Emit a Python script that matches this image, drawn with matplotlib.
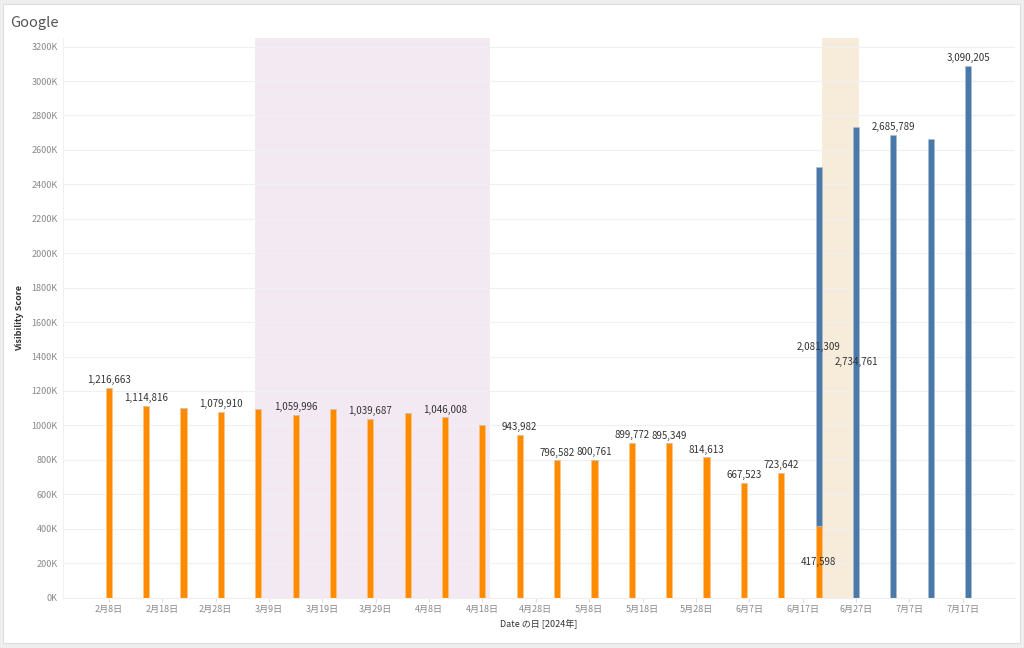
import matplotlib
matplotlib.use('Agg')
import matplotlib.pyplot as plt
import matplotlib.dates as mdates
import matplotlib.ticker as plticker
import matplotlib.patches as mpatches
import numpy as np
import pandas as pd

plt.rcParams['font.family'] = ['Noto Sans CJK JP', 'DejaVu Sans']

# daten
dates = ['2024-02-08', '2024-02-15', '2024-02-22', '2024-02-29', '2024-03-07', '2024-03-14',
         '2024-03-21', '2024-03-28', '2024-04-04', '2024-04-11', '2024-04-18', '2024-04-25',
         '2024-05-02', '2024-05-09', '2024-05-16', '2024-05-23', '2024-05-30', '2024-06-06',
         '2024-06-13', '2024-06-20', '2024-06-27', '2024-07-04', '2024-07-11', '2024-07-18']
orange_vals = [1216663, 1114816, 1103000, 1079910, 1097000, 1059996, 1097000, 1039687,
               1072000, 1046008, 1004000, 943982, 796582, 800761, 899772, 895349,
               814613, 667523, 723642, 417598, 0, 0, 0, 0]
blue_vals = [0, 0, 0, 0, 0, 0, 0, 0, 0, 0, 0, 0, 0, 0, 0, 0, 0, 0, 0,
             2081309, 2734761, 2685789, 2664000, 3090205]
# welche Balken beschriftet werden
orange_top_labels = [0, 1, 3, 5, 7, 9, 11, 12, 13, 14, 15, 16, 17, 18]
orange_mid_labels = [19]
blue_mid_labels = [19, 20]
blue_top_labels = [21, 23]
xtick_dates = ['2024-02-08', '2024-02-18', '2024-02-28', '2024-03-09', '2024-03-19', '2024-03-29',
               '2024-04-08', '2024-04-18', '2024-04-28', '2024-05-08', '2024-05-18', '2024-05-28',
               '2024-06-07', '2024-06-17', '2024-06-27', '2024-07-07', '2024-07-17']
shade_pink = ('2024-03-06 11:00', '2024-04-19 08:00')
shade_beige = ('2024-06-20 14:00', '2024-06-27 12:00')

my_orange = '#ff8c00'
my_blue = '#4a78a8'
text_grey = '#888888'

x = mdates.date2num(pd.to_datetime(dates))
orange = np.array(orange_vals)
blue = np.array(blue_vals)
width = 1.15

fig = plt.figure(figsize=(10.24, 6.48), dpi=100)
fig.patch.set_facecolor('#eeeeee')
fig.patches.append(mpatches.Rectangle((3/1024, 1 - 643/648), 1017/1024, 639/648,
                                      transform=fig.transFigure, facecolor='white',
                                      edgecolor='#dddddd', linewidth=0.8, zorder=-5))

ax = fig.add_axes([63/1024, 1 - 597.6/648, 952/1024, 559.6/648])
ax.set_facecolor('none')
ax.set_zorder(1)

# Hintergrund-Bereiche
for (a, b), c in [(shade_pink, '#f3e9f3'), (shade_beige, '#f7ebda')]:
    ax.axvspan(mdates.date2num(pd.Timestamp(a)), mdates.date2num(pd.Timestamp(b)),
               color=c, zorder=0, linewidth=0)

ax.grid(axis='y', color='#f0f0f0', linewidth=0.9, zorder=0.5)
ax.set_axisbelow(True)

# Balken
ax.bar(x, orange, width, color=my_orange, edgecolor='#ffc38a', linewidth=0.4, zorder=2)
ax.bar(x, blue, width, bottom=orange, color=my_blue, edgecolor='#a9c0d8', linewidth=0.4, zorder=2)

lab_kw = dict(fontsize=7, color='#333333', ha='center', zorder=3)
for i in orange_top_labels:
    ax.annotate(f'{orange[i]:,}', (x[i], orange[i]), xytext=(0, 2),
                textcoords='offset points', va='bottom', **lab_kw)
for i in orange_mid_labels:
    ax.text(x[i], orange[i] / 2, f'{orange[i]:,}', va='center', **lab_kw)
for i in blue_mid_labels:
    ax.text(x[i], orange[i] + blue[i] / 2, f'{blue[i]:,}', va='center', **lab_kw)
for i in blue_top_labels:
    ax.annotate(f'{blue[i]:,}', (x[i], orange[i] + blue[i]), xytext=(0, 2),
                textcoords='offset points', va='bottom', **lab_kw)

ax.set_xlim(mdates.date2num(pd.Timestamp('2024-01-30 10:00')),
            mdates.date2num(pd.Timestamp('2024-07-26 19:00')))
ax.set_ylim(0, 3250000)

ticks = mdates.date2num(pd.to_datetime(xtick_dates))
ax.set_xticks(ticks, [f'{d.month}月{d.day}日' for d in pd.to_datetime(xtick_dates)])
ax.yaxis.set_major_locator(plticker.MultipleLocator(200000))
ax.yaxis.set_major_formatter(plticker.FuncFormatter(lambda v, p: f'{v / 1000:.0f}K'))
ax.tick_params(axis='y', length=0, labelsize=6.5, labelcolor=text_grey, pad=4)
ax.tick_params(axis='x', length=3, color='#dddddd', labelsize=6.5, labelcolor=text_grey, pad=2)
# 0K etwas angehoben wie im Original
ax.get_yticklabels()[0].set_va('bottom')

for s in ['top', 'right']:
    ax.spines[s].set_visible(False)
ax.spines['left'].set_color('#f0f0f0')
ax.spines['bottom'].set_color('#f0f0f0')

ax.set_ylabel('Visibility Score', fontsize=6.5, color='#333333', fontweight='bold', labelpad=5)
ax.set_xlabel('Date の日 [2024年]', fontsize=6.5, color='#333333', labelpad=4)

fig.text(10/1024, 1 - 23/648, 'Google', fontsize=10.5, color='#555555', va='center', ha='left')

fig.savefig('out.png', dpi=100, facecolor=fig.get_facecolor())
